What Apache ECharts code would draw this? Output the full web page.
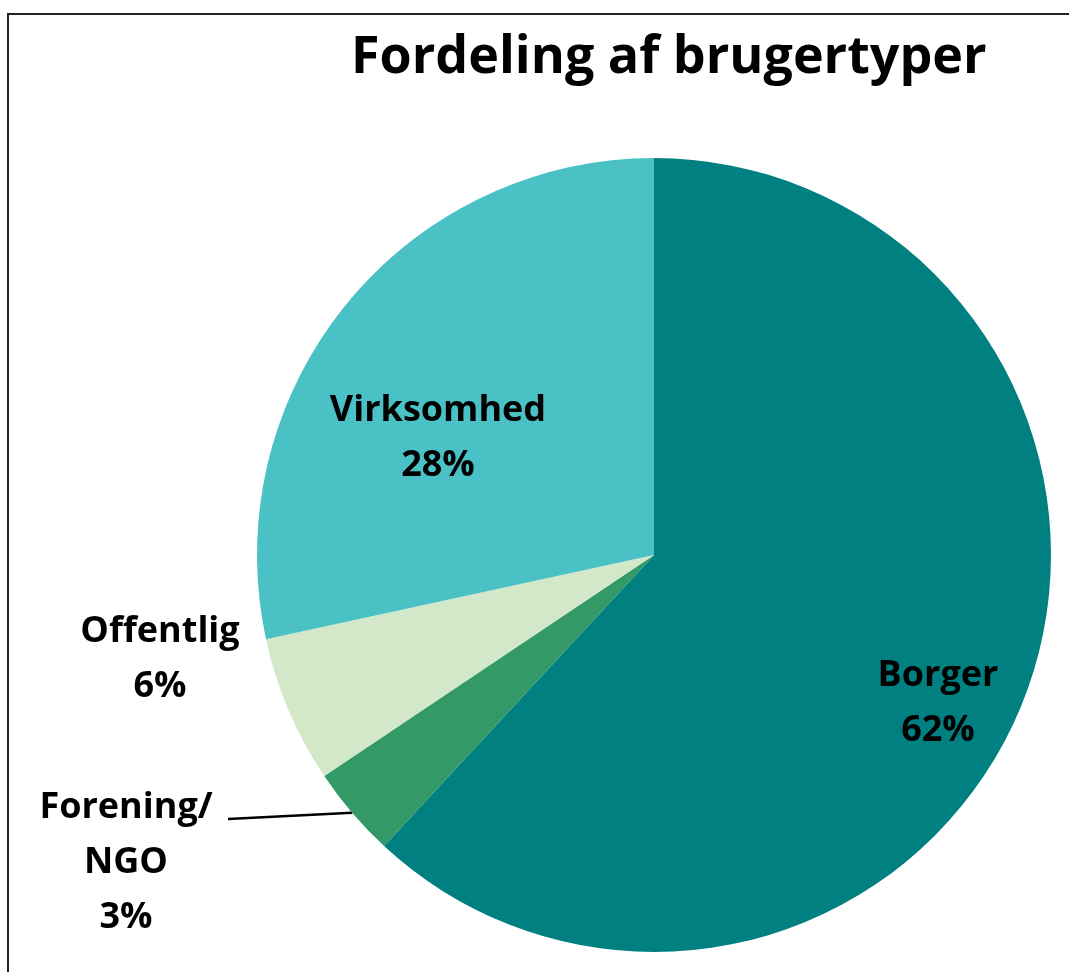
<!DOCTYPE html>
<html>
<head>
<meta charset="utf-8">
<script src="https://cdn.jsdelivr.net/npm/echarts@6/dist/echarts.min.js"></script>
<style>
  html, body { margin: 0; padding: 0; background: #fff; }
  #chart { width: 1069px; height: 972px; }
</style>
</head>
<body>
<div id="chart"></div>
<script>
// data (clockwise from 12 o'clock)
const categories = ['Borger', 'Forening/\nNGO', 'Offentlig', 'Virksomhed']
const shares = [61.9, 3.7, 6.0, 28.4]
const shareLabels = ['62%', '3%', '6%', '28%']
const sliceColors = ['#008080', '#339966', '#D3E8C9', '#4AC1C5']

// where each label block sits (centre of text block)
const labelSpots = [
  { x: 938, y: 703 },
  { x: 126, y: 863 },
  { x: 160, y: 659 },
  { x: 438, y: 438 },
]

const chart = echarts.init(document.getElementById('chart'))

const pieData = categories.map((name, i) => ({
  name,
  value: shares[i],
  itemStyle: { color: sliceColors[i] },
  label: {
    position: i === 0 || i === 3 ? 'inside' : 'outside',
    formatter: () => name + '\n' + shareLabels[i],
  },
  labelLine: { show: i === 1 },
}))

chart.setOption({
  backgroundColor: '#fff',
  animation: false,
  title: {
    text: 'Fordeling af brugertyper',
    left: 346,
    top: 27,
    textStyle: {
      fontFamily: 'Open Sans',
      fontWeight: 'bold',
      fontSize: 52,
      color: '#000',
    },
  },
  graphic: [
    {
      type: 'rect',
      shape: { x: 8, y: 14, width: 1200, height: 1200 },
      style: { fill: 'none', stroke: '#222', lineWidth: 2 },
      silent: true,
    },
  ],
  series: [
    {
      type: 'pie',
      center: [654, 555],
      radius: 397,
      startAngle: 90,
      clockwise: true,
      avoidLabelOverlap: false,
      data: pieData,
      itemStyle: { borderWidth: 0 },
      label: {
        show: true,
        color: '#000',
        fontFamily: 'Open Sans',
        fontWeight: 'bold',
        fontSize: 36,
        lineHeight: 55,
        align: 'center',
      },
      labelLine: {
        lineStyle: { color: '#000', width: 2.5 },
      },
      labelLayout: (params) => {
        const spot = labelSpots[params.dataIndex]
        const out = {
          x: spot.x,
          y: spot.y,
          align: 'center',
          verticalAlign: 'middle',
        }
        // straight leader from the end of the first label line to the slice edge
        if (params.labelLinePoints) {
          out.labelLinePoints = [params.labelLinePoints[0], [spot.x + 102, spot.y - 44]]
        }
        return out
      },
    },
  ],
})

window.addEventListener('resize', () => chart.resize())
</script>
</body>
</html>
